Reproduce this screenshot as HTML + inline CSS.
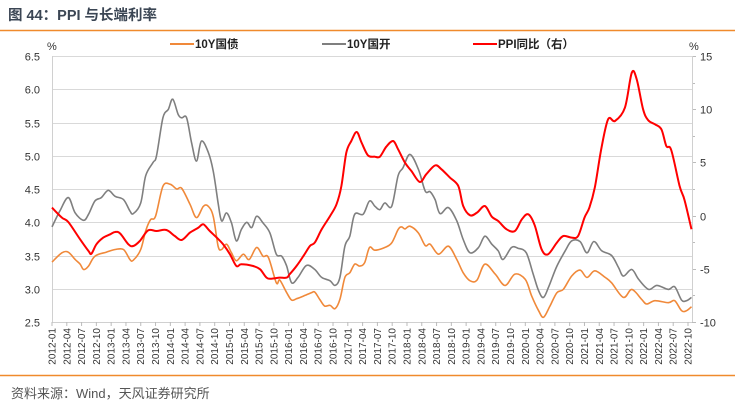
<!DOCTYPE html>
<html><head><meta charset="utf-8">
<style>
html,body{margin:0;padding:0;background:#fff;}
body{width:750px;height:412px;overflow:hidden;position:relative;font-family:"Liberation Sans","Noto Sans CJK SC",sans-serif;}
#title{position:absolute;left:8px;top:4px;font-size:14.5px;font-weight:bold;color:#3b4654;}
#source{position:absolute;left:11px;top:383px;font-size:13px;color:#555;}
svg{position:absolute;left:0;top:0;}
</style></head><body>
<div id="title">图 44：PPI 与长端利率</div>
<div id="source">资料来源：Wind，天风证券研究所</div>
<svg id="chart" width="750" height="412"></svg>
<script>
const xLabels=[];for(let y=2012;y<=2022;y++){for(const m of ['01','04','07','10']){xLabels.push(y+'-'+m);}}
const leftTicks=[2.5,3.0,3.5,4.0,4.5,5.0,5.5,6.0,6.5];
const rightTicks=[-10,-5,0,5,10,15];
const govMonths=[0,2,3.3,4.7,5.7,6.4,7.4,8.7,11,12.8,14.5,15.8,16.5,18,19,20,21,22.5,24,25.3,26.3,28,29.3,30.7,31.7,32.7,33.7,34.4,35.4,36.4,37.4,38.8,40,41.5,42.8,43.9,45.5,46.2,47.6,48.6,49.6,51,52.6,53.3,54.3,55.3,56.4,57.4,58.4,59.4,60.4,61.4,62.4,63.4,64.4,65.5,67.5,68.9,70.2,70.9,71.6,72.6,74.3,75.7,76.7,78.4,80.4,82.1,83.4,84.8,86.2,87.8,89.9,91.9,93.9,96,97.3,98.7,99.7,101,102.4,103.7,105.4,107.1,108.5,110.1,112.2,113.5,115.9,117.6,119.6,120.6,122.3,125,126.3,127.7,128.7,129.7];
const govValues=[3.40,3.54,3.55,3.44,3.37,3.29,3.34,3.49,3.55,3.59,3.59,3.44,3.43,3.59,3.87,4.04,4.09,4.54,4.57,4.50,4.51,4.27,4.07,4.24,4.24,4.09,3.64,3.59,3.67,3.54,3.42,3.52,3.44,3.62,3.49,3.47,3.09,3.13,2.94,2.83,2.85,2.89,2.94,2.95,2.84,2.74,2.75,2.70,2.84,3.17,3.24,3.37,3.34,3.39,3.62,3.58,3.62,3.69,3.89,3.93,3.90,3.94,3.84,3.65,3.67,3.52,3.64,3.44,3.24,3.12,3.13,3.37,3.22,3.05,3.22,3.14,2.89,2.67,2.57,2.74,2.94,2.99,3.19,3.28,3.17,3.27,3.17,3.09,2.87,2.99,2.84,2.77,2.82,2.79,2.82,2.67,2.67,2.73];
const cdbMonths=[0,1.6,3.3,4.7,6.4,7.4,8.7,10,11.4,12.8,14.5,15.8,16.5,18,19,20.5,21.2,22.5,23.6,24.5,25.6,26.3,27.3,28.3,29.3,30.3,31.7,32.7,33.7,34.4,35.4,36.4,37.4,38.4,39.5,40.5,41.5,42.8,44.2,45.5,46.6,47.6,48.6,49.9,51.6,53.3,54.7,56.4,57.4,58.4,59.4,60.4,61.4,63.1,64.4,65.5,66.5,67.5,68.9,70.2,71.2,72.6,74.3,75.7,76.7,77.7,78.7,80.4,82.1,83.4,84.8,86.5,87.8,89.2,90.5,91.5,93.2,94.5,96.2,97.6,98.7,99.7,100.8,102.4,104.1,105.4,107.1,108.5,109.9,111.5,113.5,114.9,115.9,117.6,119,121,122.7,125,126.3,127.7,128.7,129.7];
const cdbValues=[3.93,4.17,4.37,4.14,4.03,4.12,4.32,4.37,4.48,4.39,4.34,4.17,4.13,4.29,4.70,4.90,5.00,5.57,5.70,5.85,5.62,5.57,5.57,5.20,4.92,5.22,5.05,4.77,4.29,4.02,4.14,3.99,3.72,3.89,4.00,3.92,4.09,3.99,3.84,3.52,3.49,3.34,3.09,3.17,3.35,3.29,3.17,3.12,3.05,3.17,3.64,3.79,4.12,4.12,4.32,4.24,4.19,4.29,4.24,4.70,4.82,5.02,4.80,4.47,4.46,4.34,4.13,4.22,4.02,3.74,3.54,3.62,3.79,3.67,3.57,3.44,3.62,3.61,3.54,3.22,2.97,2.87,3.04,3.34,3.57,3.72,3.71,3.54,3.71,3.57,3.50,3.32,3.19,3.29,3.14,2.99,3.05,2.99,3.03,2.83,2.82,2.87];
const ppiMonths=[0,2,3.3,5.7,7.4,8,9,10.4,11.8,12.8,13.8,15.5,16.5,17.8,19.5,21.2,23.2,24.9,26.3,28,29.7,30.7,32,33.4,34.7,36.1,37.4,38.4,40.8,42.2,43.5,44.5,46.2,47.6,48.2,49.6,51,52.3,53.3,54.7,56.4,57.7,58.7,59.7,60.7,61.8,62.8,64.1,65.5,66.5,67.8,69.2,70.2,71.6,72.9,74.6,75.9,77.7,79,80.7,82.4,83.4,84.8,86.2,87.8,89.2,90.5,92.2,93.9,95.3,96.6,97.9,99.3,100.6,102.4,103.7,105.4,106.7,108,109,110.1,111.4,112.8,114.2,116.2,117.6,118.6,119.9,120.9,122.3,123.6,124.6,125.6,127.3,128.3,129.7];
const ppiValues=[0.75,-0.19,-0.60,-2.23,-3.33,-3.58,-2.70,-2.07,-1.76,-1.54,-1.67,-2.70,-2.86,-2.39,-1.39,-1.45,-1.35,-1.92,-2.29,-1.60,-1.13,-0.82,-1.45,-2.07,-2.70,-3.64,-4.74,-4.58,-4.74,-5.05,-5.83,-5.93,-5.83,-5.83,-5.52,-4.74,-3.80,-2.86,-2.54,-1.29,-0.04,1.06,2.78,5.91,7.01,7.86,6.85,5.66,5.54,5.54,6.48,7.01,6.23,4.97,4.19,3.16,3.88,4.72,4.35,3.57,2.78,0.90,0.03,0.28,0.90,-0.10,-0.51,-1.29,-1.45,-0.35,0.12,-0.91,-3.17,-3.64,-2.54,-1.92,-2.07,-1.92,-0.19,0.75,2.63,6.23,9.05,8.89,10.14,13.43,12.81,9.99,8.98,8.58,8.11,6.54,6.17,2.78,1.47,-1.29];

const NS='http://www.w3.org/2000/svg';
const svg=document.getElementById('chart');
const X0=52,X1=692,Y0=56,Y1=322;
const xq=i=>X0+i*(636/43);           // quarter tick index
const xm=m=>X0+m*(636/129);          // month index
const yl=v=>Y0+(6.5-v)*(Y1-Y0)/4;
const yr=v=>Y0+(15-v)*(Y1-Y0)/25;
function mk(tag,attrs,parent){const e=document.createElementNS(NS,tag);for(const k in attrs)e.setAttribute(k,attrs[k]);(parent||svg).appendChild(e);return e;}
// header/footer rules
let e=mk('line',{x1:0,y1:30.5,x2:735,y2:30.5,stroke:'#f08a2c','stroke-width':1.5});


e=mk('line',{x1:0,y1:375.5,x2:735,y2:375.5,stroke:'#f08a2c','stroke-width':1.5});


// gridlines + left labels
leftTicks.forEach(v=>{
  const y=Math.round(yl(v))+0.5;
  if(v>2.5){const g=mk('line',{x1:X0,y1:y,x2:X1,y2:y,stroke:'#d9d9d9','stroke-width':1});
  
  }
  const t=mk('text',{x:40,y:y+4,'text-anchor':'end','font-size':11,fill:'#333'});t.textContent=v.toFixed(1);
  
  
});
rightTicks.forEach(v=>{
  const y=Math.round(yr(v))+0.5;
  const t=mk('text',{x:700,y:y+4,'font-size':11,fill:'#333'});t.textContent=v;
  
  
  const tk=mk('line',{x1:X1,y1:y,x2:X1+4,y2:y,stroke:'#bbb'});
  
  
});
for(let v=-10;v<=15;v+=2.5){const y=Math.round(yr(v))+0.5;const tk=mk('line',{x1:X1,y1:y,x2:X1+3,y2:y,stroke:'#bbb'});

}
e=mk('line',{x1:X0+0.5,y1:Y0,x2:X0+0.5,y2:Y1,stroke:'#d0d0d0'});


e=mk('line',{x1:X1+0.5,y1:Y0,x2:X1+0.5,y2:Y1,stroke:'#d0d0d0'});


e=mk('line',{x1:X0,y1:Y1+0.5,x2:X1,y2:Y1+0.5,stroke:'#d0d0d0'});


let t=mk('text',{x:47,y:50,'font-size':11,fill:'#333'});t.textContent='%';


t=mk('text',{x:689,y:50,'font-size':11,fill:'#333'});t.textContent='%';


// x labels
xLabels.forEach((lab,i)=>{
  const x=xq(i);
  const tk=mk('line',{x1:x,y1:Y1,x2:x,y2:Y1+4,stroke:'#bbb'});
  
  
  const tx=mk('text',{x:0,y:0,'font-size':10,fill:'#333','text-anchor':'end',transform:`translate(${x+3.5},${Y1+6}) rotate(-90)`});
  tx.textContent=lab;
  
  
});
function path(ms,vs,ys){
  const p=ms.map((m,i)=>[xm(m),ys(vs[i])]);
  let d='M'+p[0][0].toFixed(1)+','+p[0][1].toFixed(1);
  for(let i=0;i<p.length-1;i++){
    const a=p[Math.max(0,i-1)],b=p[i],c=p[i+1],n=p[Math.min(p.length-1,i+2)];
    const c1=[b[0]+(c[0]-a[0])/6,b[1]+(c[1]-a[1])/6],c2=[c[0]-(n[0]-b[0])/6,c[1]-(n[1]-b[1])/6];
    d+=`C${c1[0].toFixed(1)},${c1[1].toFixed(1)} ${c2[0].toFixed(1)},${c2[1].toFixed(1)} ${c[0].toFixed(1)},${c[1].toFixed(1)}`;
  }
  return d;
}
let s=mk('path',{d:path(govMonths,govValues,yl),fill:'none',stroke:'#f0893a','stroke-width':1.6});


s=mk('path',{d:path(cdbMonths,cdbValues,yl),fill:'none',stroke:'#7f7f7f','stroke-width':1.6});


s=mk('path',{d:path(ppiMonths,ppiValues,yr),fill:'none',stroke:'#ff0000','stroke-width':2});


// legend
const legend=[['10Y国债','#f0893a',170],['10Y国开','#7f7f7f',322],['PPI同比（右）','#ff0000',473]];
legend.forEach(([lab,col,x])=>{
  const g=mk('g',{});
  
  
  mk('line',{x1:x,y1:44,x2:x+24,y2:44,stroke:col,'stroke-width':2},g);
  const tx=mk('text',{x:x+25,y:48,'font-size':11.5,'font-weight':'bold',fill:'#222'},g);tx.textContent=lab;
});
</script>
</body></html>
